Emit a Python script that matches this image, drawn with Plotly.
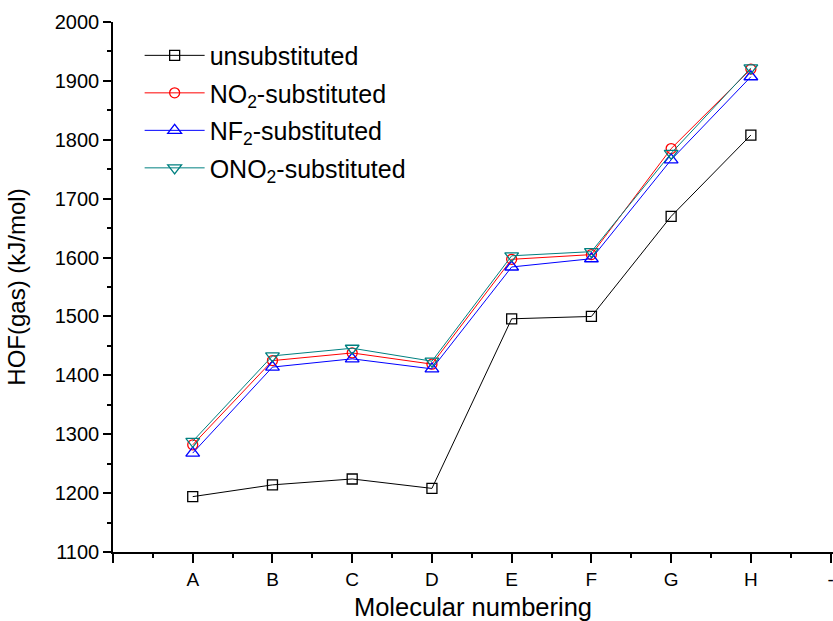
import plotly.graph_objects as go

categories = ["A", "B", "C", "D", "E", "F", "G", "H"]
unsubstituted = [1194, 1214, 1224, 1208, 1496, 1500, 1670, 1808]
no2_substituted = [1282, 1425, 1438, 1419, 1597, 1605, 1785, 1920]
nf2_substituted = [1268, 1414, 1428, 1411, 1584, 1598, 1766, 1907]
ono2_substituted = [1288, 1433, 1446, 1424, 1603, 1610, 1777, 1922]

series_names = ["unsubstituted", "NO<sub>2</sub>-substituted",
                "NF<sub>2</sub>-substituted", "ONO<sub>2</sub>-substituted"]
series_values = [unsubstituted, no2_substituted, nf2_substituted, ono2_substituted]
colors = ["#000000", "#FF0000", "#0000FF", "#008080"]
symbols = ["square-open", "circle-open", "triangle-up-open", "triangle-down-open"]
sizes = [10, 10, 12, 12]

x_pos = list(range(1, len(categories) + 1))
tick_vals = [0] + x_pos + [len(categories) + 1]
tick_text = [""] + categories + ["-"]

FONT = "Liberation Sans, Arial, Helvetica, sans-serif"

fig = go.Figure()
for i, (name, vals) in enumerate(zip(series_names, series_values)):
    fig.add_trace(go.Scatter(
        x=x_pos, y=vals, name=name, mode="lines+markers",
        line=dict(color=colors[i], width=1),
        marker=dict(symbol=symbols[i], size=sizes[i], color=colors[i],
                    line=dict(color=colors[i], width=1.3)),
        legendgroup=str(i),
    ))

fig.update_layout(
    width=833, height=621,
    margin=dict(l=113, r=0, t=22, b=69),
    paper_bgcolor="white", plot_bgcolor="white",
    font=dict(family=FONT, color="black"),
    showlegend=True,
    legend=dict(x=0.037, y=0.98, xanchor="left", yanchor="top",
                font=dict(size=25, family=FONT), bgcolor="rgba(0,0,0,0)",
                tracegroupgap=2, itemwidth=60),
    xaxis=dict(
        range=[0, 9.03], tickmode="array", tickvals=tick_vals, ticktext=tick_text,
        automargin=False, ticklabeloverflow="allow",
        showgrid=False, zeroline=False, showline=True, linecolor="black", linewidth=1.5,
        ticks="outside", ticklen=9, tickwidth=1.5, tickcolor="black",
        tickfont=dict(size=19, family=FONT),
        minor=dict(tickmode="array", tickvals=[v + 0.5 for v in tick_vals[:-1]],
                   ticks="outside", ticklen=4, tickwidth=1.5, tickcolor="black"),
        title=dict(text="Molecular numbering", font=dict(size=25.5, family=FONT), standoff=12),
    ),
    yaxis=dict(
        range=[1100, 2000], dtick=100, tick0=1100,
        automargin=False,
        showgrid=False, zeroline=False, showline=True, linecolor="black", linewidth=1.5,
        ticks="outside", ticklen=8, tickwidth=1.5, tickcolor="black",
        tickfont=dict(size=20, family=FONT),
        minor=dict(dtick=50, ticks="outside", ticklen=4, tickwidth=1.5, tickcolor="black"),
        title=dict(text="HOF(gas) (kJ/mol)", font=dict(size=24, family=FONT), standoff=22),
    ),
)

fig.write_html("out.html", config={"displayModeBar": False},
               post_script="document.body.style.margin='0';document.body.style.overflow='hidden';")
